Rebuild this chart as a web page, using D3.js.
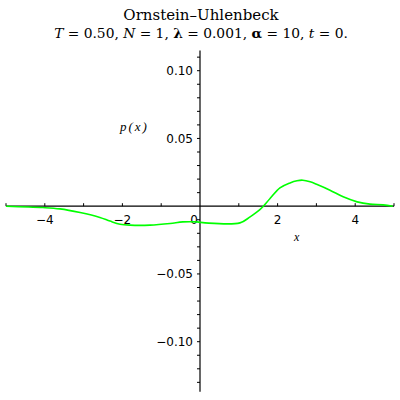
<!DOCTYPE html>
<html><head><meta charset="utf-8">
<script src="https://cdn.jsdelivr.net/npm/d3@7"></script>
<style>body{margin:0;background:#fff;} svg{display:block;}</style>
</head><body>
<div id="chart"></div>
<script>
const xs = [-5, -4.05, -3.61, -3.09, -2.58, -2.32, -2.06, -1.80, -1.29, -0.77, -0.44, -0.08, 0.13, 1.03, 1.29, 1.55, 1.80, 2.06, 2.32, 2.5, 2.65, 2.84, 3.02, 3.35, 3.69, 4.05, 4.38, 4.72, 4.97];
const ys = [0, -0.001, -0.002, -0.0047, -0.0083, -0.011, -0.0133, -0.014, -0.014, -0.0128, -0.0116, -0.0116, -0.0123, -0.0123, -0.0079, -0.0024, 0.0055, 0.0135, 0.0172, 0.0188, 0.0192, 0.018, 0.016, 0.0118, 0.0069, 0.0032, 0.0015, 0.001, 0];
const xTickLabels = [-4, -2, 0, 2, 4];
const xMinorTicks = [-5, -4, -3, -2, -1, 1, 2, 3, 4, 5];
const yTickLabels = [-0.10, -0.05, 0.05, 0.10];
const yMinorTicks = d3.range(-13, 12).map(i => i / 100);
const title1 = "Ornstein\u2013Uhlenbeck";

const W = 400, H = 400;
const x = d3.scaleLinear().domain([-5, 5]).range([6, 394]);
const y = d3.scaleLinear().domain([0.10, -0.10]).range([70.7, 341.7]);

const svg = d3.select("#chart").append("svg").attr("width", W).attr("height", H);

// title
const tf = "'DejaVu Serif', serif";
svg.append("text").attr("x", 201).attr("y", 20).attr("text-anchor", "middle")
  .attr("font-family", tf).attr("font-size", 15).text(title1);
const t2 = svg.append("text").attr("x", 201).attr("y", 38).attr("text-anchor", "middle")
  .attr("font-family", tf).attr("font-size", 13.8);
const parts = [["T", "italic"], [" = 0.50, ", ""], ["N", "italic"], [" = 1, ", ""], ["\u03bb", "bold"], [" = 0.001, ", ""], ["\u03b1", "bold"], [" = 10, ", ""], ["t", "italic"], [" = 0.", ""]];
parts.forEach(([s, st]) => {
  const ts = t2.append("tspan").text(s);
  if (st === "italic") ts.attr("font-style", "italic");
  if (st === "bold") ts.attr("font-weight", "bold");
});

const x0 = x(0), y0 = y(0);
const yTop = y(0.115), yBot = y(-0.137);

// axes lines
svg.append("line").attr("x1", x(-5)).attr("x2", x(5)).attr("y1", y0).attr("y2", y0)
  .attr("stroke", "#000").attr("stroke-width", 1.2);
svg.append("line").attr("x1", x0).attr("x2", x0).attr("y1", yTop).attr("y2", yBot)
  .attr("stroke", "#000").attr("stroke-width", 1.2);

// x ticks (upward)
svg.selectAll(".xt").data(xMinorTicks).enter().append("line")
  .attr("x1", d => x(d)).attr("x2", d => x(d)).attr("y1", y0).attr("y2", y0 - 3)
  .attr("stroke", "#000").attr("stroke-width", 1);
// y ticks (left)
svg.selectAll(".yt").data(yMinorTicks.filter(d => Math.abs(d) > 1e-9)).enter().append("line")
  .attr("x1", x0).attr("x2", x0 - 3).attr("y1", d => y(d)).attr("y2", d => y(d))
  .attr("stroke", "#000").attr("stroke-width", 1);

const lf = "'DejaVu Sans', sans-serif";
const fmtMinus = s => s.replace("-", "\u2212");
svg.selectAll(".xl").data(xTickLabels).enter().append("text")
  .attr("x", d => d === 0 ? x(d) - 6 : x(d)).attr("y", y0 + 18)
  .attr("text-anchor", "middle").attr("font-family", lf).attr("font-size", 12)
  .text(d => fmtMinus(String(d)));
svg.selectAll(".yl").data(yTickLabels).enter().append("text")
  .attr("x", x0 - 7).attr("y", d => y(d) + 4.5)
  .attr("text-anchor", "end").attr("font-family", lf).attr("font-size", 12)
  .text(d => fmtMinus(d3.format(".2f")(d)));

// axis labels
svg.append("text").attr("x", 120).attr("y", 131).attr("font-family", "'Liberation Serif', serif")
  .attr("font-style", "italic").attr("font-size", 13).attr("letter-spacing", 2).text("p(x)");
svg.append("text").attr("x", 294).attr("y", 241).attr("font-family", "'Liberation Serif', serif")
  .attr("font-style", "italic").attr("font-size", 12).text("x");

// curve
const pts = xs.map((v, i) => [v, ys[i]]);
const line = d3.line().x(d => x(d[0])).y(d => y(d[1])).curve(d3.curveCatmullRom);
svg.append("path").datum(pts).attr("d", line).attr("fill", "none")
  .attr("stroke", "#00ff00").attr("stroke-width", 1.6);
</script>
</body></html>
